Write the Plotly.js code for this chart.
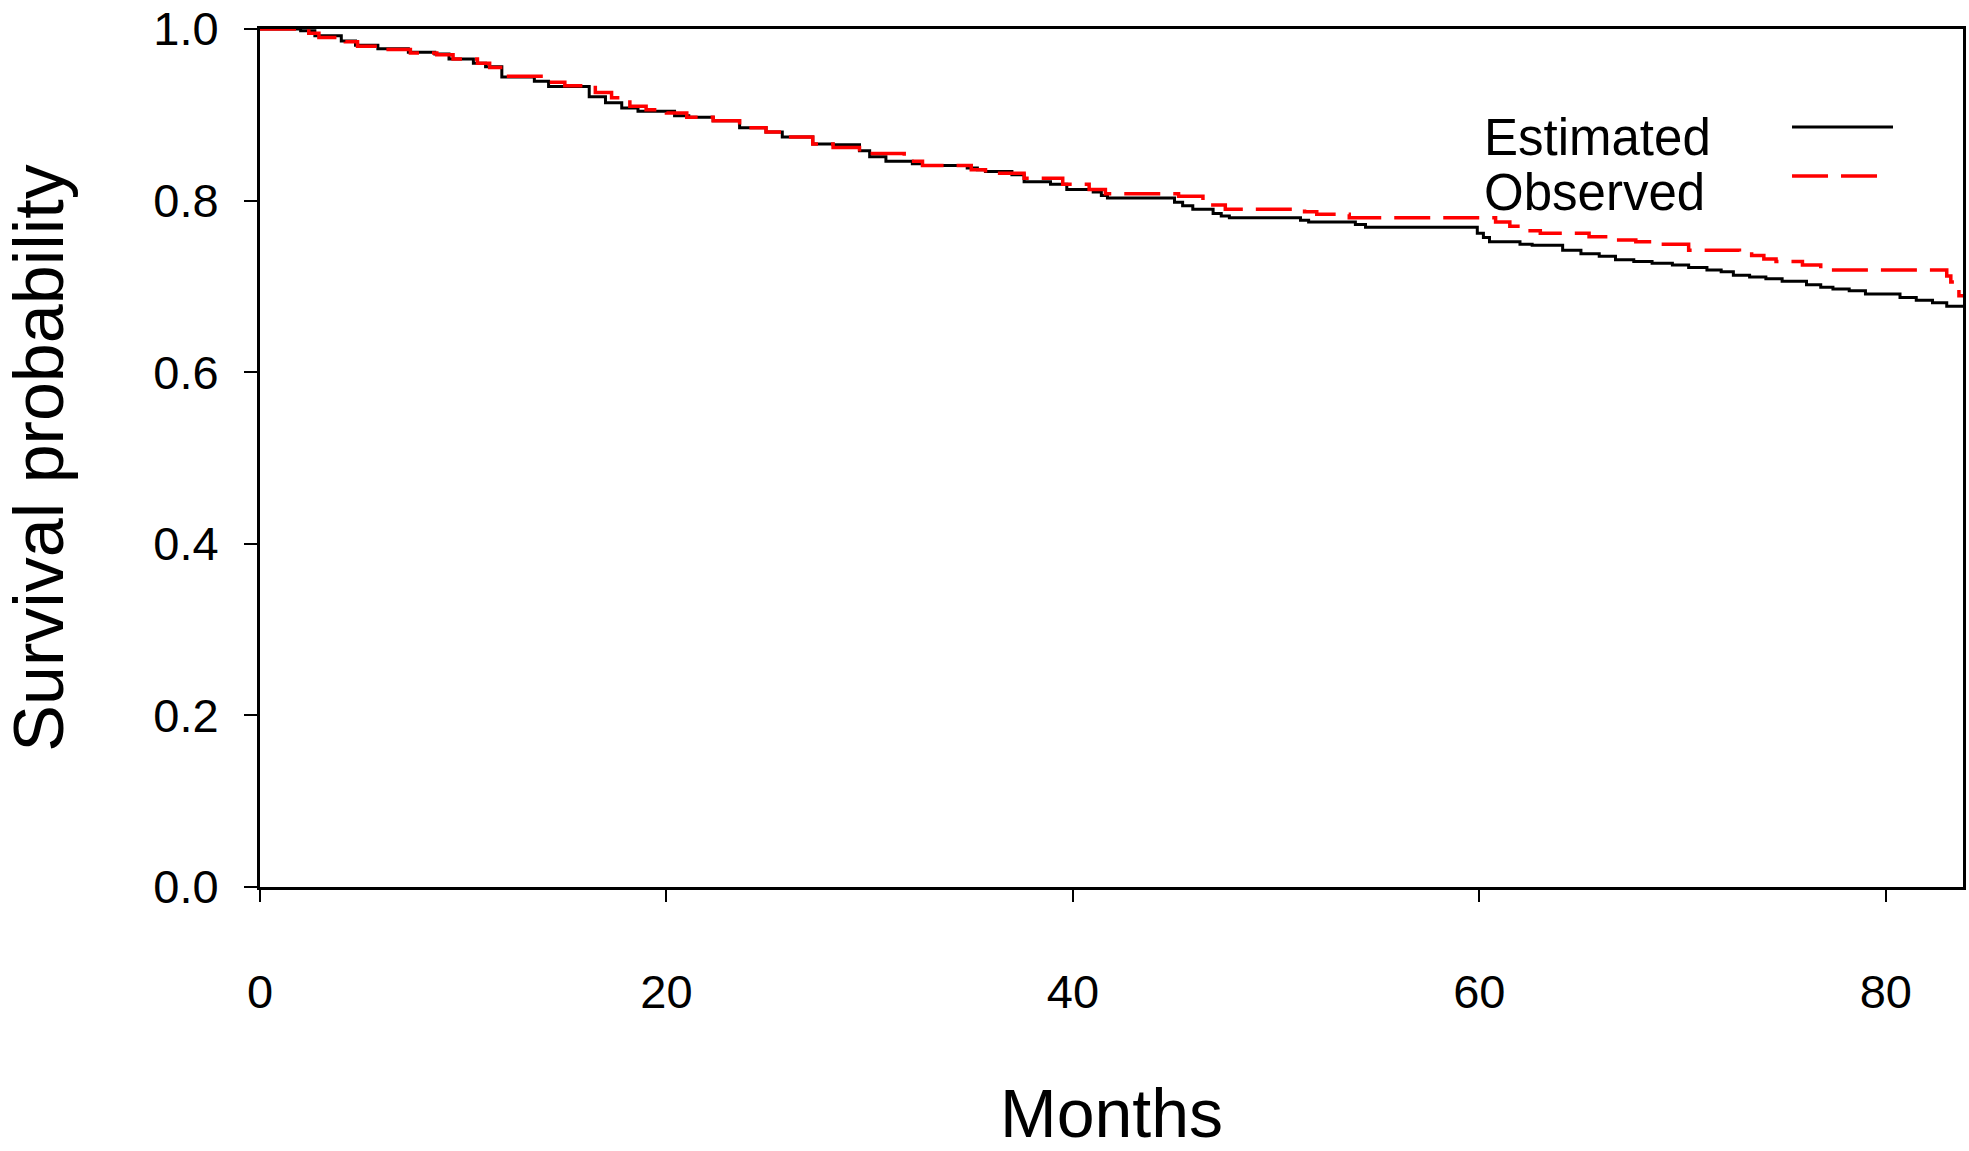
<!DOCTYPE html>
<html>
<head>
<meta charset="utf-8">
<script src="https://cdn.plot.ly/plotly-3.0.1.min.js"></script>
<style>html,body{margin:0;padding:0;background:#fff;}#chart{width:1969px;height:1151px;}</style>
</head>
<body>
<div id="chart"></div>
<script>
// Estimated survival (black, solid) — month / probability
const estMonths = [0, 2.0, 2.7, 4.0, 4.7, 5.8, 7.3, 8.6, 9.3, 10.5, 11.1, 11.9, 13.5, 14.2, 16.2, 17.0, 17.8, 18.6, 20.4, 21.1,
  22.3, 23.6, 24.9, 25.7, 27.2, 28.2, 29.5, 30.0, 30.8, 32.1, 32.6, 34.8, 35.3, 35.7, 37.0, 37.6, 38.9, 39.7, 41.0, 41.4, 41.7,
  45.0, 45.4, 45.9, 46.9, 47.3, 47.7, 51.2, 51.6, 53.9, 54.4, 59.9, 60.2, 60.5, 60.8, 62.0, 62.6, 64.1, 65.0, 65.9, 66.7,
  67.6, 68.5, 69.5, 70.3, 71.2, 71.9, 72.5, 73.3, 74.1, 74.9, 76.1, 76.8, 77.4, 78.2, 79.0, 80.7, 81.5, 82.3, 83.0, 83.8];
const estSurv = [1.000, 0.998, 0.992, 0.986, 0.981, 0.977, 0.973, 0.971, 0.965, 0.960, 0.956, 0.944, 0.939, 0.933, 0.921, 0.914, 0.908, 0.904, 0.899, 0.897,
  0.893, 0.885, 0.880, 0.874, 0.866, 0.865, 0.858, 0.851, 0.846, 0.843, 0.841, 0.838, 0.836, 0.834, 0.830, 0.822, 0.819, 0.813, 0.810, 0.806, 0.803,
  0.798, 0.794, 0.790, 0.785, 0.782, 0.780, 0.777, 0.775, 0.772, 0.769, 0.762, 0.757, 0.752, 0.752, 0.749, 0.748, 0.742, 0.738, 0.735, 0.731,
  0.729, 0.727, 0.725, 0.722, 0.719, 0.717, 0.713, 0.711, 0.709, 0.706, 0.702, 0.699, 0.697, 0.695, 0.691, 0.687, 0.684, 0.681, 0.677, 0.677];

// Observed survival (red, dashed) — month / probability
const obsMonths = [0, 2.4, 2.9, 4.2, 4.8, 5.9, 7.4, 8.7, 9.5, 10.7, 11.3, 12.0, 14.0, 15.0, 16.5, 17.3, 18.2, 19.0, 20.0, 21.0,
  22.3, 23.6, 24.9, 25.7, 27.2, 28.2, 29.5, 31.7, 32.6, 35.0, 35.7, 37.6, 39.5, 40.8, 41.6,
  45.0, 45.2, 46.4, 46.8, 47.5, 51.2, 51.4, 52.0, 53.6, 60.2, 60.8, 61.5, 62.2, 63.0, 65.4, 66.4, 67.7, 68.6, 70.3,
  72.8, 73.4, 74.0, 74.6, 75.9, 76.8, 77.3, 83.0, 83.2, 83.4, 83.6, 83.8];
const obsSurv = [1.000, 0.995, 0.990, 0.985, 0.980, 0.976, 0.972, 0.970, 0.965, 0.960, 0.955, 0.945, 0.938, 0.934, 0.926, 0.920, 0.910, 0.906, 0.902, 0.897,
  0.893, 0.885, 0.880, 0.874, 0.866, 0.862, 0.855, 0.846, 0.841, 0.836, 0.832, 0.826, 0.819, 0.813, 0.808,
  0.808, 0.805, 0.800, 0.795, 0.790, 0.790, 0.787, 0.784, 0.780, 0.780, 0.775, 0.770, 0.765, 0.762, 0.758, 0.754, 0.752, 0.749, 0.742,
  0.740, 0.736, 0.732, 0.729, 0.725, 0.721, 0.719, 0.712, 0.705, 0.697, 0.689, 0.689];

const xTickVals = [0, 20, 40, 60, 80];
const yTickVals = [0.0, 0.2, 0.4, 0.6, 0.8, 1.0];
const yTickText = ['0.0', '0.2', '0.4', '0.6', '0.8', '1.0'];
const seriesNames = ['Estimated', 'Observed'];

const FONT = '"Liberation Sans", Arial, Helvetica, sans-serif';

const traces = [
  {x: estMonths, y: estSurv, type: 'scatter', mode: 'lines', name: seriesNames[0],
   line: {color: '#000000', width: 3, shape: 'hv'}, showlegend: false},
  {x: obsMonths, y: obsSurv, type: 'scatter', mode: 'lines', name: seriesNames[1],
   line: {color: '#ff0000', width: 3.5, shape: 'hv', dash: '36px,13px'}, showlegend: false}
];

const layout = {
  width: 1969, height: 1151,
  paper_bgcolor: '#ffffff', plot_bgcolor: '#ffffff',
  margin: {l: 260, r: 6, t: 29, b: 264},
  font: {family: FONT, color: '#000000'},
  showlegend: false,
  xaxis: {
    range: [0, 83.8], tickvals: xTickVals, ticktext: xTickVals.map(String),
    ticks: 'outside', ticklen: 12, tickwidth: 2, tickcolor: '#000',
    showline: true, linewidth: 3, linecolor: '#000', mirror: true,
    showgrid: false, zeroline: false,
    tickfont: {family: FONT, size: 47, color: '#000'},
    ticklabelstandoff: 50,
    title: {text: 'Months', font: {family: FONT, size: 68, color: '#000'}, standoff: 98},
    automargin: false
  },
  yaxis: {
    range: [0, 1], tickvals: yTickVals, ticktext: yTickText,
    ticks: 'outside', ticklen: 13, tickwidth: 2, tickcolor: '#000',
    showline: true, linewidth: 3, linecolor: '#000', mirror: true,
    showgrid: false, zeroline: false,
    tickfont: {family: FONT, size: 47, color: '#000'},
    ticklabelstandoff: 16,
    ticklabeloverflow: 'allow',
    title: {text: 'Survival probability', font: {family: FONT, size: 70, color: '#000'}, standoff: 88},
    automargin: false
  },
  annotations: [
    {xref: 'paper', yref: 'paper', x: 0.7176, y: 0.8741, xanchor: 'left', yanchor: 'middle', showarrow: false,
     text: seriesNames[0], font: {family: FONT, size: 51, color: '#000'}},
    {xref: 'paper', yref: 'paper', x: 0.7176, y: 0.81, xanchor: 'left', yanchor: 'middle', showarrow: false,
     text: seriesNames[1], font: {family: FONT, size: 51, color: '#000'}}
  ],
  shapes: [
    {type: 'line', xref: 'paper', yref: 'paper', x0: 0.8996, x1: 0.9589, y0: 0.8858, y1: 0.8858,
     line: {color: '#000', width: 3}},
    {type: 'line', xref: 'paper', yref: 'paper', x0: 0.8996, x1: 0.9512, y0: 0.8287, y1: 0.8287,
     line: {color: '#ff0000', width: 3.5, dash: '36px,13px'}}
  ]
};

Plotly.newPlot('chart', traces, layout, {displayModeBar: false, staticPlot: true});
</script>
</body>
</html>
